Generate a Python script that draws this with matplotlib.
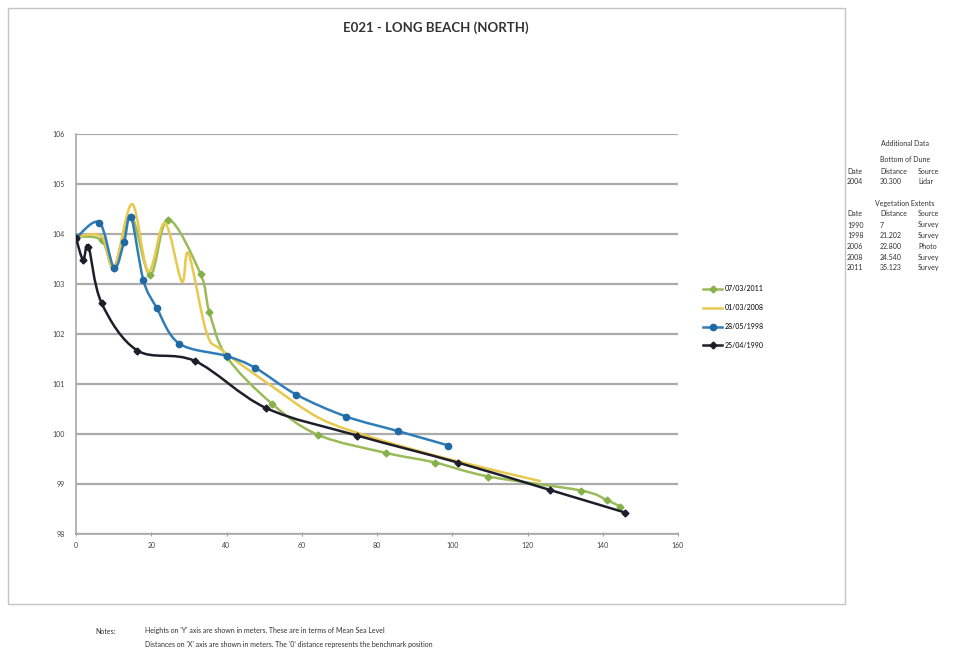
import numpy as np
import matplotlib
matplotlib.use('Agg')
import matplotlib.pyplot as plt
from matplotlib.path import Path
from matplotlib.patches import PathPatch, Rectangle
from matplotlib.lines import Line2D

plt.rcParams['font.family'] = ['Lato', 'DejaVu Sans']

# profile surveys: distance from benchmark (m) and height above MSL (m)
dist_2011 = [0, 6.8, 10.1, 14.6, 19.7, 24.5, 33.1, 35.4, 40.0, 52.0, 64.4, 82.5, 95.4, 109.6, 134.2, 141.0, 144.6]
hgt_2011 = [103.95, 103.88, 103.33, 104.35, 103.18, 104.29, 103.20, 102.45, 101.55, 100.61, 99.98, 99.62, 99.43, 99.15, 98.87, 98.68, 98.55]

dist_2008 = [0, 6.8, 10.1, 14.9, 19.2, 23.6, 28.1, 29.9, 34.7, 38.7, 51.6, 64.9, 80.0, 100.0, 123.3]
hgt_2008 = [103.95, 103.95, 103.33, 104.60, 103.25, 104.22, 103.05, 103.61, 102.03, 101.68, 100.98, 100.31, 99.90, 99.48, 99.06]

dist_1998 = [0, 6.2, 10.1, 12.8, 14.6, 17.9, 21.4, 27.4, 40.0, 47.7, 58.5, 71.8, 85.5, 99.0]
hgt_1998 = [103.92, 104.23, 103.33, 103.85, 104.35, 103.08, 102.53, 101.81, 101.56, 101.32, 100.79, 100.35, 100.06, 99.77]

dist_1990 = [0, 1.9, 3.3, 6.8, 16.3, 31.6, 50.5, 74.7, 101.4, 126.0, 145.9]
hgt_1990 = [103.92, 103.48, 103.75, 102.62, 101.67, 101.46, 100.52, 99.97, 99.43, 98.88, 98.43]

labels = ['07/03/2011', '01/03/2008', '28/05/1998', '25/04/1990']
x_ticks = [0, 20, 40, 60, 80, 100, 120, 140, 160]
y_ticks = [98, 99, 100, 101, 102, 103, 104, 105, 106]

bottom_dune = [['2004', '30.300', 'Lidar']]
veg_extents = [['1990', '7', 'Survey'],
               ['1998', '21.202', 'Survey'],
               ['2006', '22.800', 'Photo'],
               ['2008', '24.540', 'Survey'],
               ['2011', '35.123', 'Survey']]

notes = ["Heights on 'Y' axis are shown in meters. These are in terms of Mean Sea Level",
         "Distances on 'X' axis are shown in meters. The '0' distance represents the benchmark position"]


#smoothed line through the survey points (like the spreadsheet smoothed line)
def smoothPath(xs, ys):
    p = np.column_stack([xs, ys]).astype(float)
    pts = np.vstack([p[0], p, p[-1]])
    verts = [p[0]]
    codes = [Path.MOVETO]
    for i in range(1, len(pts) - 2):
        c1 = pts[i] + (pts[i + 1] - pts[i - 1]) / 6.0
        c2 = pts[i + 1] - (pts[i + 2] - pts[i]) / 6.0
        verts += [c1, c2, pts[i + 1]]
        codes += [Path.CURVE4] * 3
    return Path(verts, codes)


fig = plt.figure(figsize=(9.76, 6.62), dpi=100)
fig.patch.set_facecolor('white')
fig.patches.append(Rectangle((8 / 976, 1 - 604 / 662), 837 / 976, 596 / 662,
                             transform=fig.transFigure, fill=False,
                             edgecolor='#c4c4c4', linewidth=1.0))

ax = fig.add_axes([76 / 976, 1 - 534 / 662, 602 / 976, 400 / 662])

series = [
    (dist_2011, hgt_2011, '#9bbb59', 'D', 3.5, '#86b04a'),
    (dist_2008, hgt_2008, '#e8c84e', None, 0, '#e8c84e'),
    (dist_1998, hgt_1998, '#2f7db8', 'o', 4.5, '#1f6aa5'),
    (dist_1990, hgt_1990, '#1e1e2a', 'D', 3.5, '#1e1e2a'),
]
handles = []
for k, (xs, ys, col, mk, ms, mcol) in enumerate(series):
    ax.add_patch(PathPatch(smoothPath(xs, ys), facecolor='none', edgecolor=col,
                           linewidth=1.8, zorder=3 + k, capstyle='round', joinstyle='round'))
    if mk is not None:
        ax.plot(xs, ys, linestyle='none', marker=mk, markersize=ms,
                markerfacecolor=mcol, markeredgecolor=mcol, zorder=3.5 + k)
    handles.append(Line2D([], [], color=col, linewidth=1.8, marker=mk,
                          markersize=ms, markerfacecolor=mcol, markeredgecolor=mcol))

ax.set_xlim(0, 160)
ax.set_ylim(98, 106)
ax.set_xticks(x_ticks)
ax.set_yticks(y_ticks)
ax.tick_params(axis='both', labelsize=5, colors='#404040', length=0, pad=8)
ax.tick_params(axis='x', length=3, direction='inout', color='#a0a0a0', pad=4)
ax.grid(axis='y', color='#ababab', linewidth=1.6)
ax.set_axisbelow(True)
for s in ['top', 'right']:
    ax.spines[s].set_visible(False)
for s in ['left', 'bottom']:
    ax.spines[s].set_color('#a8a8a8')
    ax.spines[s].set_linewidth(1.2)

fig.legend(handles, labels, loc='upper left', bbox_to_anchor=(700 / 976, 1 - 282 / 662),
           frameon=False, fontsize=5, handlelength=2.6, labelspacing=1.7,
           handletextpad=0.4, borderpad=0)

fig.text(436 / 976, 1 - 28 / 662, 'E021 - LONG BEACH (NORTH)', ha='center', va='center',
         fontsize=9.5, fontweight='bold', color='#333333')

# additional data table on the right
cols = [847 / 976, 880 / 976, 918 / 976]
tk = dict(fontsize=5, color='#303030', va='center')
fig.text(905 / 976, 1 - 143 / 662, 'Additional Data', ha='center', **tk)
fig.text(905 / 976, 1 - 160 / 662, 'Bottom of Dune', ha='center', **tk)
for c, h in zip(cols, ['Date', 'Distance', 'Source']):
    fig.text(c, 1 - 171 / 662, h, ha='left', **tk)
for r, row in enumerate(bottom_dune):
    for c, v in zip(cols, row):
        fig.text(c, 1 - (181 + 10.5 * r) / 662, v, ha='left', **tk)
fig.text(905 / 976, 1 - 203 / 662, 'Vegetation Extents', ha='center', **tk)
for c, h in zip(cols, ['Date', 'Distance', 'Source']):
    fig.text(c, 1 - 214 / 662, h, ha='left', **tk)
for r, row in enumerate(veg_extents):
    for c, v in zip(cols, row):
        fig.text(c, 1 - (225 + 10.7 * r) / 662, v, ha='left', **tk)

# notes under the chart
fig.text(95 / 976, 1 - 631 / 662, 'Notes:', ha='left', **tk)
for i, n in enumerate(notes):
    fig.text(145 / 976, 1 - (631 + 14 * i) / 662, n, ha='left', **tk)

fig.savefig('out.png', dpi=100, facecolor='white')
